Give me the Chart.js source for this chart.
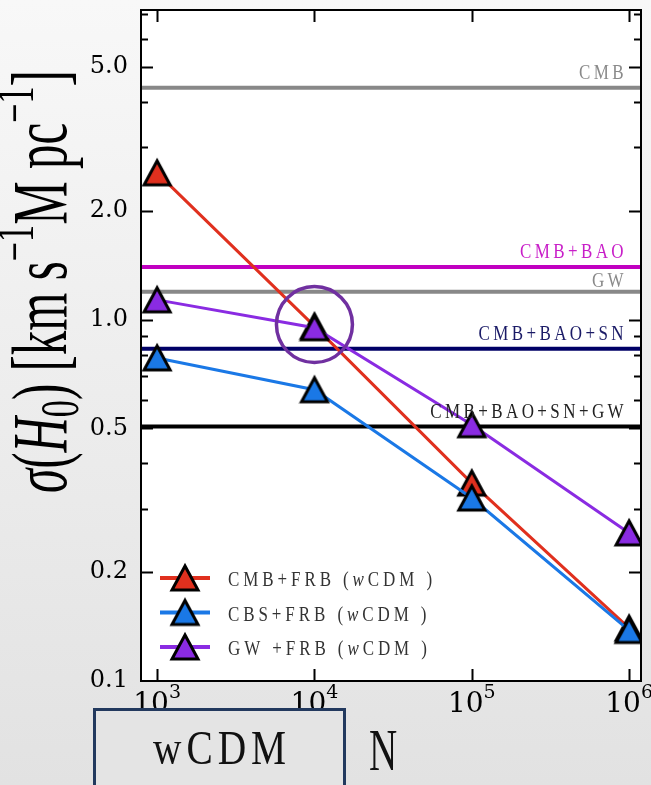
<!DOCTYPE html>
<html>
<head>
<meta charset="utf-8">
<script src="https://cdn.jsdelivr.net/npm/chart.js@4.4.0/dist/chart.umd.min.js"></script>
<style>
  html, body { margin: 0; padding: 0; }
  body { width: 651px; height: 785px; overflow: hidden; background: linear-gradient(#f8f8f8, #e2e2e2); }
  #wrap { position: relative; width: 651px; height: 785px; }
</style>
</head>
<body>
<div id="wrap"><canvas id="chart" width="651" height="785"></canvas></div>
<script>
// data
const nValues = [1e3, 1e4, 1e5, 1e6];
const seriesNames = ['CMB+FRB', 'CBS+FRB', 'GW +FRB'];
const cmbFrb = [2.55, 0.96, 0.353, 0.14];
const cbsFrb = [0.784, 0.64, 0.321, 0.138];
const gwFrb = [1.135, 0.95, 0.512, 0.257];
const seriesColors = ['#e0301e', '#1a78e6', '#8a2be2'];

const refNames = ['CMB', 'CMB+BAO', 'GW', 'CMB+BAO+SN', 'CMB+BAO+SN+GW'];
const refValues = [4.39, 1.40, 1.196, 0.831, 0.506];
const refLineColors = ['#888888', '#c000c0', '#888888', '#000066', '#000000'];
const refTextColors = ['#8a8a8a', '#c81ec8', '#8a8a8a', '#1a1a66', '#222222'];

const yLabelTicks = [0.1, 0.2, 0.5, 1, 2, 5];
const yMinorTicks = [0.3, 0.4, 0.6, 0.7, 0.8, 0.9, 3, 4, 6, 7];
const xTicks = [1e3, 1e4, 1e5, 1e6];
const xTickExp = ['3', '4', '5', '6'];
const xMin = 790, xMax = 1.19e6, yMin = 0.1, yMax = 7.2;
const highlight = { x: 1e4, y: 0.97 };

function makeMarker(color) {
  const c = document.createElement('canvas');
  c.width = 32; c.height = 32;
  const g = c.getContext('2d');
  g.beginPath();
  g.moveTo(16, 4); g.lineTo(3, 28); g.lineTo(29, 28); g.closePath();
  g.fillStyle = color; g.fill();
  g.lineWidth = 3; g.strokeStyle = '#000'; g.lineJoin = 'miter'; g.stroke();
  return c;
}
const markers = seriesColors.map(makeMarker);

const datasets = [];
refValues.forEach((v, i) => datasets.push({
  label: refNames[i],
  data: [{ x: xMin, y: v }, { x: xMax, y: v }],
  borderColor: refLineColors[i], borderWidth: 4, pointRadius: 0, order: 10 + i
}));
[cmbFrb, cbsFrb, gwFrb].forEach((arr, i) => datasets.push({
  label: seriesNames[i],
  data: nValues.map((n, j) => ({ x: n, y: arr[j] })),
  borderColor: seriesColors[i], borderWidth: 3,
  pointStyle: markers[i], pointRadius: 14, order: 3 - i
}));

// text with spacing, optional italic pieces
function spacedWidth(ctx, segs, size, spacing) {
  let w = 0;
  segs.forEach(s => {
    ctx.font = (s.it ? 'italic ' : '') + size + 'px "Liberation Serif"';
    ctx.letterSpacing = spacing + 'px';
    w += ctx.measureText(s.t).width;
  });
  return w;
}
function drawSpaced(ctx, segs, x, y, size, scaleX, spacing, color) {
  ctx.save();
  ctx.translate(x, y);
  ctx.scale(scaleX, 1);
  ctx.fillStyle = color;
  ctx.textBaseline = 'alphabetic';
  let cx = 0;
  segs.forEach(s => {
    ctx.font = (s.it ? 'italic ' : '') + size + 'px "Liberation Serif"';
    ctx.letterSpacing = spacing + 'px';
    ctx.fillText(s.t, cx, 0);
    cx += ctx.measureText(s.t).width;
  });
  ctx.restore();
}

const decorPlugin = {
  id: 'decor',
  beforeDatasetsDraw(chart) {
    const { ctx, chartArea: a } = chart;
    ctx.save();
    ctx.fillStyle = '#ffffff';
    ctx.fillRect(a.left, a.top, a.right - a.left, a.bottom - a.top);
    ctx.restore();
  },
  afterDatasetsDraw(chart) {
    const { ctx, chartArea: a, scales: { x, y } } = chart;
    ctx.save();

    // highlight circle
    ctx.beginPath();
    ctx.arc(x.getPixelForValue(highlight.x), y.getPixelForValue(highlight.y), 38, 0, Math.PI * 2);
    ctx.lineWidth = 3.5; ctx.strokeStyle = '#7030a0'; ctx.stroke();

    // inward ticks
    ctx.strokeStyle = '#000'; ctx.lineWidth = 2;
    ctx.beginPath();
    const yTick = (v, len) => {
      const py = Math.round(y.getPixelForValue(v)) + 0.5;
      ctx.moveTo(a.left, py); ctx.lineTo(a.left + len, py);
      ctx.moveTo(a.right, py); ctx.lineTo(a.right - len, py);
    };
    yLabelTicks.forEach(v => { if (v > yMin) yTick(v, 12); });
    yMinorTicks.forEach(v => yTick(v, 7));
    xTicks.forEach(v => {
      const px = Math.round(x.getPixelForValue(v)) + 0.5;
      ctx.moveTo(px, a.top); ctx.lineTo(px, a.top + 12);
      ctx.moveTo(px, a.bottom); ctx.lineTo(px, a.bottom - 12);
    });
    ctx.stroke();
    ctx.strokeRect(a.left, a.top, a.right - a.left, a.bottom - a.top);

    // reference line labels
    refNames.forEach((name, i) => {
      const segs = [{ t: name }];
      const w = spacedWidth(ctx, segs, 20, 4) * 0.85;
      const dy = name === 'GW' ? 5 : 9;
      drawSpaced(ctx, segs, a.right - 14 - w, y.getPixelForValue(refValues[i]) - dy, 20, 0.85, 4, refTextColors[i]);
    });

    // legend
    seriesNames.forEach((name, i) => {
      const ly = 578 + i * 34.5;
      ctx.beginPath();
      ctx.moveTo(160, ly); ctx.lineTo(210, ly);
      ctx.lineWidth = 4; ctx.strokeStyle = seriesColors[i]; ctx.stroke();
      ctx.drawImage(markers[i], 185 - 16, ly - 16);
      drawSpaced(ctx, [{ t: name + ' (' }, { t: 'w', it: true }, { t: 'CDM )' }], 228, ly + 8, 20, 0.85, 4.6, '#333333');
    });

    // x tick labels 10^n
    ctx.fillStyle = '#000';
    ctx.letterSpacing = '0px';
    ctx.textBaseline = 'alphabetic';
    xTicks.forEach((v, i) => {
      ctx.font = '28px "DejaVu Serif"';
      const w1 = ctx.measureText('10').width;
      ctx.font = '19px "DejaVu Serif"';
      const w2 = ctx.measureText(xTickExp[i]).width;
      const px = x.getPixelForValue(v);
      const sx = px - (w1 + w2) / 2;
      ctx.font = '28px "DejaVu Serif"';
      ctx.fillText('10', sx, 712);
      ctx.font = '19px "DejaVu Serif"';
      ctx.fillText(xTickExp[i], sx + w1, 698);
    });

    // y axis title
    const segs = [
      { t: 'σ', it: true }, { t: '(' }, { t: 'H', it: true }, { t: '0', sub: true }, { t: ')' },
      { t: ' [km s' }, { t: '−1', sup: true }, { t: 'M pc' }, { t: '−1', sup: true }, { t: ']' }
    ];
    const fontFor = (s, size) => (s.it ? 'italic ' : '') + ((s.sup || s.sub) ? size * 0.7 : size) + 'px "Liberation Serif"';
    let w36 = 0;
    segs.forEach(s => { ctx.font = fontFor(s, 36); w36 += ctx.measureText(s.t).width; });
    const size = 36 * 423 / w36;
    ctx.save();
    ctx.translate(66, 493);
    ctx.rotate(-Math.PI / 2);
    ctx.scale(1, 1.6);
    let cx = 0;
    segs.forEach(s => {
      ctx.font = fontFor(s, size);
      const dy = s.sup ? -size * 0.42 : s.sub ? size * 0.15 : 0;
      ctx.fillText(s.t, cx, dy);
      cx += ctx.measureText(s.t).width;
    });
    ctx.restore();

    // model box and N
    ctx.fillStyle = '#e4e4e4';
    ctx.fillRect(95, 710, 248, 90);
    ctx.lineWidth = 3; ctx.strokeStyle = '#22395e';
    ctx.strokeRect(94.5, 709.5, 250, 90);
    const bw = spacedWidth(ctx, [{ t: 'wCDM' }], 48, 6) * 0.82;
    drawSpaced(ctx, [{ t: 'wCDM' }], 219 - bw / 2 + 3, 764, 48, 0.82, 6, '#111111');
    drawSpaced(ctx, [{ t: 'N' }], 369, 770, 60, 0.65, 0, '#111111');

    ctx.restore();
  }
};

new Chart(document.getElementById('chart'), {
  type: 'line',
  data: { datasets },
  options: {
    responsive: false,
    animation: false,
    devicePixelRatio: 1,
    layout: { autoPadding: false, padding: { top: 10, right: 10, left: 0, bottom: 0 } },
    plugins: { legend: { display: false }, tooltip: { enabled: false } },
    scales: {
      x: {
        type: 'logarithmic', min: xMin, max: xMax,
        grid: { display: false, drawTicks: false }, border: { display: false },
        ticks: { display: false },
        afterFit: s => { s.height = 104; s.paddingLeft = 0; s.paddingRight = 0; }
      },
      y: {
        type: 'logarithmic', min: yMin, max: yMax,
        grid: { display: false, drawTicks: false }, border: { display: false },
        afterBuildTicks: s => { s.ticks = yLabelTicks.map(v => ({ value: v })); },
        ticks: {
          autoSkip: false, padding: 13, color: '#000',
          font: { family: 'DejaVu Serif', size: 24 },
          callback: v => Number(v).toFixed(1)
        },
        afterFit: s => { s.width = 141; s.paddingTop = 0; s.paddingBottom = 0; }
      }
    }
  },
  plugins: [decorPlugin]
});
</script>
</body>
</html>
